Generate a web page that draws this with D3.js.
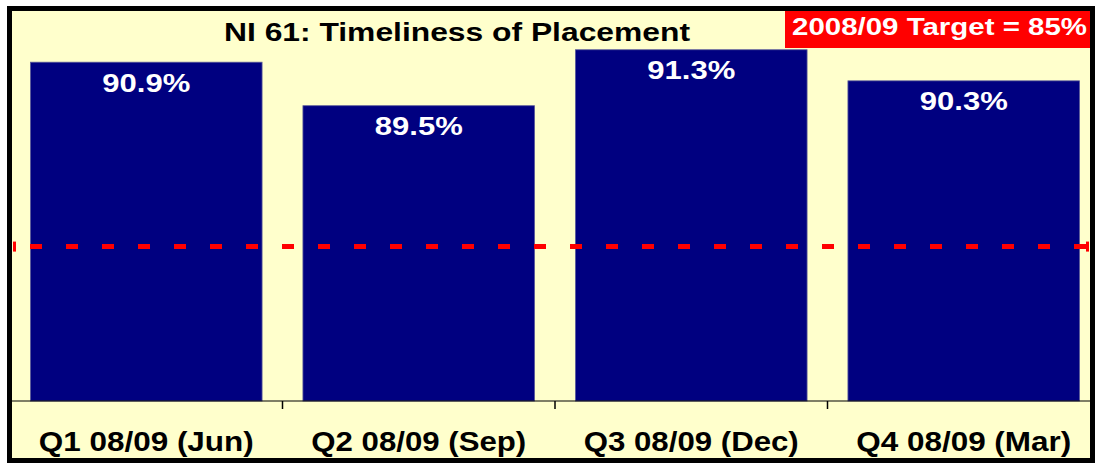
<!DOCTYPE html>
<html>
<head>
<meta charset="utf-8">
<script src="https://cdn.jsdelivr.net/npm/d3@7"></script>
<style>
  body { margin: 0; background: #fff; }
  svg text { font-family: "Liberation Sans", Arial, sans-serif; font-weight: bold; }
</style>
</head>
<body>
<div id="chart"></div>
<script>
// Chart data
var categories = ["Q1 08/09 (Jun)", "Q2 08/09 (Sep)", "Q3 08/09 (Dec)", "Q4 08/09 (Mar)"];
var values = [90.9, 89.5, 91.3, 90.3];
var target = 85;
var titleText = "NI 61: Timeliness of Placement";
var targetText = "2008/09 Target = 85%";

var width = 1097;
var height = 465;

var svg = d3.select("#chart").append("svg")
    .attr("width", width)
    .attr("height", height);

// chart background
svg.append("rect")
    .attr("x", 10)
    .attr("y", 8.5)
    .attr("width", 1082)
    .attr("height", 452)
    .attr("fill", "#FFFFCC");

// scales
var x = d3.scaleBand()
    .domain(categories)
    .range([10, 1100])
    .paddingInner(0.15)
    .paddingOuter(0.075);

var y = d3.scaleLinear()
    .domain([80, 92])
    .range([401, 28]);

// clip to the chart border
svg.append("clipPath").attr("id", "plotclip")
  .append("rect").attr("x", 10).attr("y", 8).attr("width", 1081).attr("height", 452);

var plot = svg.append("g").attr("clip-path", "url(#plotclip)");

// bars
plot.selectAll(".bar")
    .data(values)
    .enter().append("rect")
    .attr("class", "bar")
    .attr("x", function(d, i) { return x(categories[i]); })
    .attr("y", function(d) { return y(d); })
    .attr("width", x.bandwidth())
    .attr("height", function(d) { return y(80) - y(d); })
    .attr("fill", "#000080")
    .attr("stroke", "#5a5a9a")
    .attr("stroke-width", 0.8);

// bar labels
plot.selectAll(".lbl")
    .data(values)
    .enter().append("text")
    .attr("class", "lbl")
    .attr("x", function(d, i) { return x(categories[i]) + x.bandwidth() / 2; })
    .attr("y", function(d) { return y(d) + 29.5; })
    .attr("text-anchor", "middle")
    .attr("fill", "#fff")
    .attr("font-size", 26)
    .attr("textLength", 88)
    .attr("lengthAdjust", "spacingAndGlyphs")
    .text(function(d) { return d.toFixed(1) + "%"; });

// target line
plot.append("line")
    .attr("x1", 10)
    .attr("x2", 1090)
    .attr("y1", y(target) + 1)
    .attr("y2", y(target) + 1)
    .attr("stroke", "#FF0000")
    .attr("stroke-width", 5)
    .attr("stroke-dasharray", "12,24")
    .attr("stroke-dashoffset", 16);

// target line end markers
[13, 1086].forEach(function(px) {
  plot.append("rect")
      .attr("x", px)
      .attr("y", y(target) - 4)
      .attr("width", 3)
      .attr("height", 10)
      .attr("fill", "#FF0000");
});

// x axis
var xAxis = plot.append("g")
    .attr("transform", "translate(0," + y(80) + ")");
xAxis.append("line")
    .attr("x1", 10).attr("x2", 1092)
    .attr("stroke", "#000").attr("stroke-width", 1.2);
xAxis.selectAll(".tick")
    .data(categories.slice(1))
    .enter().append("line")
    .attr("x1", function(d) { return x(d) - x.step() * x.paddingInner() / 2; })
    .attr("x2", function(d) { return x(d) - x.step() * x.paddingInner() / 2; })
    .attr("y1", 0)
    .attr("y2", 8)
    .attr("stroke", "#000")
    .attr("stroke-width", 1.5);
xAxis.selectAll(".cat")
    .data(categories)
    .enter().append("text")
    .attr("class", "cat")
    .attr("x", function(d) { return x(d) + x.bandwidth() / 2; })
    .attr("y", 50)
    .attr("text-anchor", "middle")
    .attr("fill", "#000")
    .attr("font-size", 27)
    .attr("textLength", 215)
    .attr("lengthAdjust", "spacingAndGlyphs")
    .text(function(d) { return d; });

// title
svg.append("text")
    .attr("x", 457)
    .attr("y", 40.5)
    .attr("text-anchor", "middle")
    .attr("font-size", 25)
    .attr("textLength", 466)
    .attr("lengthAdjust", "spacingAndGlyphs")
    .attr("fill", "#000")
    .text(titleText);

// target box
svg.append("rect")
    .attr("x", 785)
    .attr("y", 9)
    .attr("width", 308)
    .attr("height", 39)
    .attr("fill", "#FF0000");
svg.append("text")
    .attr("x", 792)
    .attr("y", 35)
    .attr("font-size", 23.5)
    .attr("textLength", 295)
    .attr("lengthAdjust", "spacingAndGlyphs")
    .attr("fill", "#fff")
    .text(targetText);

// chart border
svg.append("rect")
    .attr("x", 9.5)
    .attr("y", 8.5)
    .attr("width", 1083)
    .attr("height", 452)
    .attr("fill", "none")
    .attr("stroke", "#000")
    .attr("stroke-width", 5);
</script>
</body>
</html>
